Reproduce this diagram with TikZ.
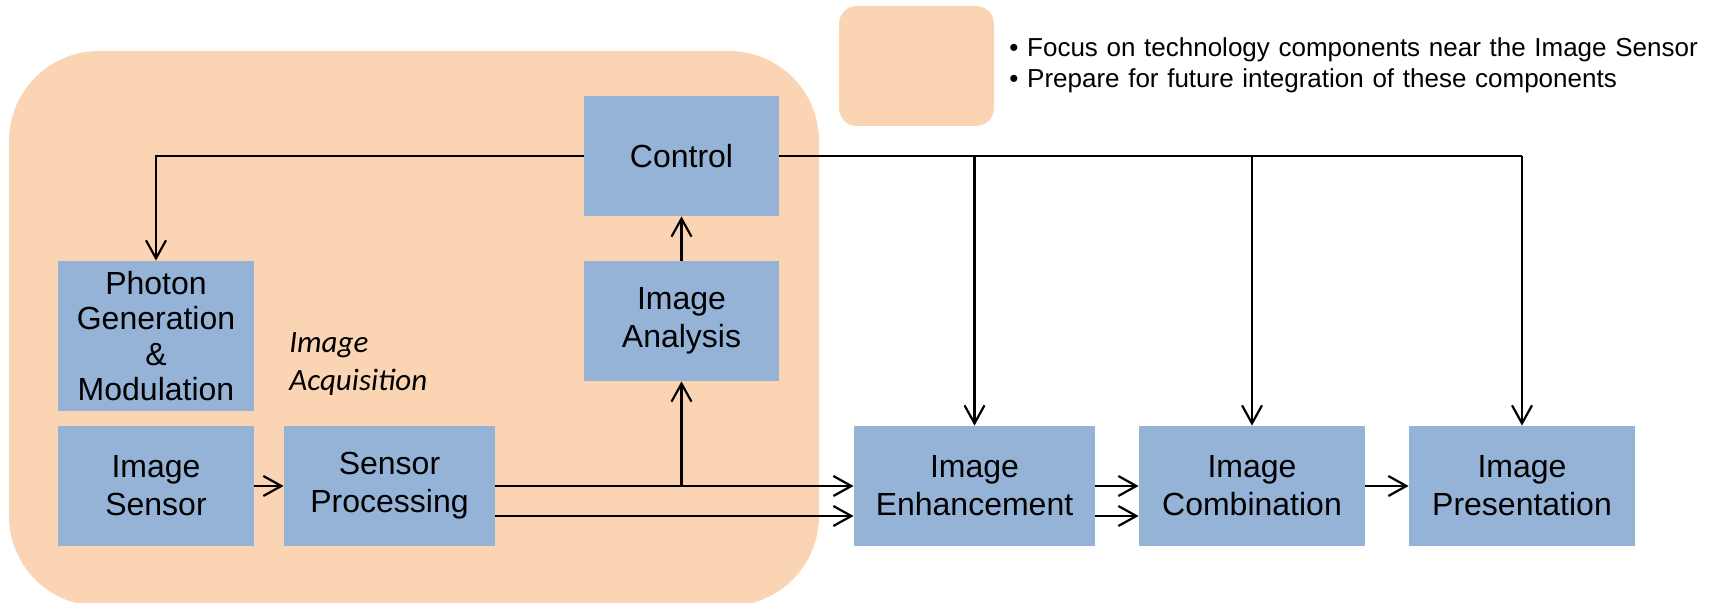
\documentclass[tikz,border=0pt]{standalone}
\usepackage{fontspec}
\setmainfont{Liberation Sans}
\newfontfamily\calibri{Carlito}
\usetikzlibrary{arrows.meta}
\definecolor{boxblue}{HTML}{95B3D7}
\definecolor{regionorange}{HTML}{FBD4B4}
\begin{document}
\begin{tikzpicture}[x=0.5pt,y=-0.5pt,
  blockbox/.style={fill=boxblue, align=center, inner sep=0pt, minimum height=60pt, font=\fontsize{16}{19}\selectfont},
  conn/.style={line width=1.1pt, -{Straight Barb[length=9pt,width=10pt,line width=1.1pt]}},
  plainline/.style={line width=1.1pt}
]
\useasboundingbox (0,0) rectangle (1715,603);
% regions
\fill[regionorange, rounded corners=45pt] (9,51) rectangle (819,606);
\fill[regionorange, rounded corners=9pt] (839,6) rectangle (994,126);
% legend text
\node[anchor=base west, inner sep=0pt, font=\fontsize{13}{15.5}\selectfont, text width=350pt, align=left] (legendtext) at (1009,57)
  {\textbullet\ Focus on technology components near the Image Sensor\\\textbullet\ Prepare for future integration of these components};
% label
\node[anchor=base west, inner sep=0pt, text width=100pt, align=left, font=\calibri\itshape\fontsize{15.5}{19}\selectfont] (acqlabel) at (289,353) {Image\\Acquisition};
% boxes
\node[blockbox, minimum width=97.5pt] (ctrl) at (681.5,156) {Control};
\node[blockbox, minimum width=98pt, minimum height=75pt, font=\fontsize{16}{17.75}\selectfont] (photon) at (156,336) {Photon\\Generation\\\&\\Modulation};
\node[blockbox, minimum width=97.5pt] (analysis) at (681.5,321) {Image\\Analysis};
\node[blockbox, minimum width=98pt] (sensor) at (156,486) {Image\\Sensor};
\node[blockbox, minimum width=105.5pt] (proc) at (389.5,486) {Sensor\\Processing};
\node[blockbox, minimum width=120.5pt] (enh) at (974.5,486) {Image\\Enhancement};
\node[blockbox, minimum width=113pt] (comb) at (1252,486) {Image\\Combination};
\node[blockbox, minimum width=113pt] (pres) at (1522,486) {Image\\Presentation};
% connectors
\draw[conn] (ctrl.west) -| (photon.north);
\draw[conn] (analysis.north) -- (ctrl.south);
\draw[conn] (sensor.east) -- (proc.west);
\draw[conn] (proc.east) -- (enh.west);
\draw[conn] ([yshift=-15pt]proc.east) -- ([yshift=-15pt]enh.west);
\draw[conn] (proc.east -| analysis.south) -- (analysis.south);
\draw[conn] (enh.east) -- (comb.west);
\draw[conn] ([yshift=-15pt]enh.east) -- ([yshift=-15pt]comb.west);
\draw[conn] (comb.east) -- (pres.west);
\draw[plainline] (ctrl.east) -- (ctrl.east -| pres.north);
\draw[conn] (ctrl.east -| enh.north) -- (enh.north);
\draw[conn] (ctrl.east -| comb.north) -- (comb.north);
\draw[conn] (ctrl.east -| pres.north) -- (pres.north);
\end{tikzpicture}
\end{document}
